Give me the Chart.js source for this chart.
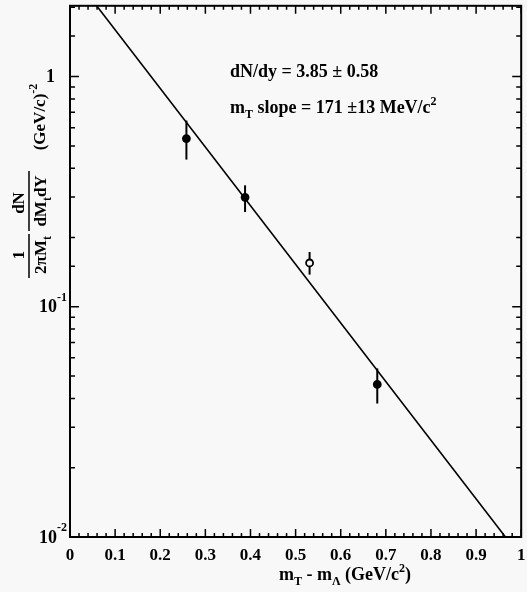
<!DOCTYPE html>
<html>
<head>
<meta charset="utf-8">
<script src="https://cdn.jsdelivr.net/npm/chart.js@4"></script>
<style>
    body { margin: 0; background: #f8f8f8; }
    canvas { display: block; }
</style>
</head>
<body>
<canvas id="mt-chart" width="527" height="592"></canvas>
<script>
// measured spectrum (m_T - m_Lambda in GeV/c^2)
const mtValues = [0.258, 0.388, 0.531, 0.681];
const yieldValues = [0.538, 0.299, 0.155, 0.046];
const errLow = [0.436, 0.258, 0.138, 0.038];
const errHigh = [0.644, 0.337, 0.173, 0.054];
const openMarker = [false, false, true, false];

// exponential fit, straight on log axis -> two end points
const fitX = [0, 1];
const fitY = [2.87, 0.00815];

// y tick labels (base + exponent)
const yLabelValues = [1, 0.1, 0.01];
const yLabelBase = ['1', '10', '10'];
const yLabelExp = ['', '-1', '-2'];

const serif = '"Liberation Serif", "DejaVu Serif", serif';

// draws a run of text pieces: [text, 'n' | 'sub' | 'sup']
function drawRich(ctx, parts, x, y, size, align) {
    const small = Math.round(size * 0.68);
    let total = 0;
    parts.forEach(p => {
        ctx.font = 'bold ' + (p[1] === 'n' ? size : small) + 'px ' + serif;
        total += ctx.measureText(p[0]).width;
    });
    let cx = align === 'center' ? x - total / 2 : x;
    ctx.textAlign = 'left';
    ctx.textBaseline = 'alphabetic';
    parts.forEach(p => {
        ctx.font = 'bold ' + (p[1] === 'n' ? size : small) + 'px ' + serif;
        let dy = 0;
        if (p[1] === 'sub') dy = size * 0.3;
        if (p[1] === 'sup') dy = -size * 0.45;
        ctx.fillText(p[0], cx, y + dy);
        cx += ctx.measureText(p[0]).width;
    });
}

function drawRotated(ctx, parts, x, y, size) {
    ctx.save();
    ctx.translate(x, y);
    ctx.rotate(-Math.PI / 2);
    drawRich(ctx, parts, 0, 0, size, 'center');
    ctx.restore();
}

const decorPlugin = {
    id: 'decor',
    beforeDraw(chart) {
        const ctx = chart.ctx;
        ctx.save();
        ctx.fillStyle = '#f8f8f8';
        ctx.fillRect(0, 0, chart.width, chart.height);
        ctx.restore();
    },
    beforeDatasetsDraw(chart) {
        // error bars
        const ctx = chart.ctx;
        const xs = chart.scales.x, ys = chart.scales.y;
        ctx.save();
        ctx.strokeStyle = '#000';
        ctx.lineWidth = 2;
        mtValues.forEach((v, i) => {
            const px = xs.getPixelForValue(v);
            ctx.beginPath();
            ctx.moveTo(px, ys.getPixelForValue(errLow[i]));
            ctx.lineTo(px, ys.getPixelForValue(errHigh[i]));
            ctx.stroke();
        });
        ctx.restore();
    },
    afterDraw(chart) {
        const ctx = chart.ctx;
        const a = chart.chartArea;
        const xs = chart.scales.x, ys = chart.scales.y;
        ctx.save();
        ctx.strokeStyle = '#000';
        ctx.fillStyle = '#000';

        // frame
        ctx.lineWidth = 2;
        ctx.strokeRect(a.left, a.top, a.right - a.left, a.bottom - a.top);

        // inward ticks
        ctx.lineWidth = 1.5;
        ctx.beginPath();
        xs.ticks.forEach(t => {
            const px = xs.getPixelForValue(t.value);
            const major = Math.abs(t.value * 10 - Math.round(t.value * 10)) < 1e-6;
            const len = major ? 8 : 4;
            ctx.moveTo(px, a.bottom); ctx.lineTo(px, a.bottom - len);
            ctx.moveTo(px, a.top); ctx.lineTo(px, a.top + len);
        });
        ys.ticks.forEach(t => {
            if (t.value >= ys.max) return;
            const py = ys.getPixelForValue(t.value);
            const lg = Math.log10(t.value);
            const major = Math.abs(lg - Math.round(lg)) < 1e-6;
            const len = major ? 9 : 5;
            ctx.moveTo(a.left, py); ctx.lineTo(a.left + len, py);
            ctx.moveTo(a.right, py); ctx.lineTo(a.right - len, py);
        });
        ctx.stroke();

        // y tick labels
        yLabelValues.forEach((v, i) => {
            const py = ys.getPixelForValue(v);
            ctx.font = 'bold 18px ' + serif;
            ctx.textBaseline = 'middle';
            ctx.textAlign = 'right';
            const baseRight = yLabelExp[i] ? 57 : 55;
            ctx.fillText(yLabelBase[i], baseRight, py + 1);
            if (yLabelExp[i]) {
                ctx.font = 'bold 12px ' + serif;
                ctx.textAlign = 'left';
                ctx.fillText(yLabelExp[i], baseRight, py - 9);
            }
        });

        // y axis title
        drawRotated(ctx, [['(GeV/c)', 'n'], ['-2', 'sup']], 45, 117, 17);
        drawRotated(ctx, [['dN', 'n']], 24, 203, 17);
        drawRotated(ctx, [['dM', 'n'], ['t', 'sub'], ['dY', 'n']], 46, 201, 17);
        drawRotated(ctx, [['1', 'n']], 24, 255, 17);
        drawRotated(ctx, [['2\u03c0M', 'n'], ['t', 'sub']], 46, 255, 17);
        ctx.lineWidth = 1.5;
        ctx.beginPath();
        ctx.moveTo(29, 171); ctx.lineTo(29, 231);
        ctx.moveTo(29, 234); ctx.lineTo(29, 278);
        ctx.stroke();

        // x axis title
        drawRich(ctx, [['m', 'n'], ['T', 'sub'], [' - m', 'n'], ['\u039b', 'sub'], [' (GeV/c', 'n'], ['2', 'sup'], [')', 'n']],
            345, 580, 18, 'center');

        // fit results
        drawRich(ctx, [['dN/dy = 3.85 \u00b1 0.58', 'n']], 230, 77, 18, 'left');
        drawRich(ctx, [['m', 'n'], ['T', 'sub'], [' slope = 171 \u00b113 MeV/c', 'n'], ['2', 'sup']], 230, 113, 18, 'left');
        ctx.restore();
    }
};

const ctx = document.getElementById('mt-chart').getContext('2d');
new Chart(ctx, {
    type: 'scatter',
    data: {
        datasets: [{
            label: 'fit',
            type: 'line',
            data: fitX.map((x, i) => ({ x: x, y: fitY[i] })),
            borderColor: '#000',
            borderWidth: 1.6,
            pointRadius: 0,
            fill: false,
            order: 2
        }, {
            label: 'data',
            data: mtValues.map((x, i) => ({ x: x, y: yieldValues[i] })),
            pointStyle: 'circle',
            pointRadius: 3.5,
            pointBackgroundColor: openMarker.map(o => o ? '#f8f8f8' : '#000'),
            pointBorderColor: '#000',
            pointBorderWidth: 1.8,
            order: 1
        }]
    },
    options: {
        responsive: false,
        devicePixelRatio: 1,
        animation: false,
        layout: { padding: { top: 5, right: 3, left: 0, bottom: 0 } },
        plugins: {
            legend: { display: false },
            tooltip: { enabled: false }
        },
        scales: {
            x: {
                type: 'linear',
                min: 0,
                max: 1,
                grid: { display: false, drawTicks: false },
                border: { display: false },
                ticks: {
                    stepSize: 0.02,
                    autoSkip: false,
                    maxRotation: 0,
                    padding: 8,
                    color: '#000',
                    font: { family: serif, size: 17, weight: 'bold' },
                    callback: function (v) {
                        const tenth = Math.round(v * 10);
                        if (Math.abs(v * 10 - tenth) > 1e-6) return '';
                        if (tenth === 0) return '0';
                        if (tenth === 10) return '1';
                        return (tenth / 10).toFixed(1);
                    }
                },
                afterFit: function (s) {
                    s.height = 55;
                    s.paddingLeft = 0;
                    s.paddingRight = 0;
                }
            },
            y: {
                type: 'logarithmic',
                min: 0.01,
                max: 2.03,
                grid: { display: false, drawTicks: false },
                border: { display: false },
                ticks: { display: false, autoSkip: false },
                afterFit: function (s) {
                    s.width = 70;
                    s.paddingTop = 0;
                    s.paddingBottom = 0;
                }
            }
        }
    },
    plugins: [decorPlugin]
});
</script>
</body>
</html>
